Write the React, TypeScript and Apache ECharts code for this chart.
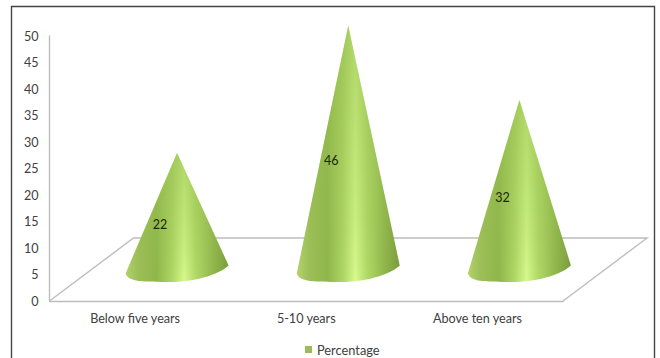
import React, { useEffect, useRef } from "react";
import * as echarts from "echarts";

const categories = ["Below five years", "5-10 years", "Above ten years"];
const percentages = [22, 46, 32];
const yTicksMax = 50;
const yTickStep = 5;
const seriesName = "Percentage";

const FONT = "Lato, Carlito, 'Open Sans', sans-serif";
const TEXT = "#404040";
const FLOOR = "#bdbdbd";
// Shift from the front edge of the floor to its back edge.
const DEPTH_X = 84;
const DEPTH_Y = -63;
const BASE_RX = 51.5;
const BASE_SLOPE = -4;
const BASE_BULGE = 13;

// Cone silhouette: two straight flanks and a slightly tilted elliptical base.
const Cone = echarts.graphic.extendShape({
  type: "cone",
  shape: { cx: 0, cy: 0, tipY: 0 },
  buildPath(ctx: any, s: any) {
    const lx = s.cx - BASE_RX;
    const rx = s.cx + BASE_RX;
    const ly = s.cy - BASE_SLOPE;
    const ry = s.cy + BASE_SLOPE;
    ctx.moveTo(s.cx, s.tipY);
    ctx.lineTo(rx, ry);
    ctx.bezierCurveTo(rx - 14, ry + BASE_BULGE, s.cx + 6, s.cy + BASE_BULGE - 0.5, s.cx - 4, s.cy + BASE_BULGE - 0.5);
    ctx.bezierCurveTo(s.cx - 26, s.cy + BASE_BULGE - 1, lx + 3, ly + BASE_BULGE - 3, lx, ly);
    ctx.closePath();
  },
});
echarts.graphic.registerShape("cone", Cone);

const coneBody = new echarts.graphic.LinearGradient(0, 0, 1, 0, [
  { offset: 0, color: "#b4d26e" },
  { offset: 0.12, color: "#9dbf58" },
  { offset: 0.3, color: "#8fb64a" },
  { offset: 0.45, color: "#aed664" },
  { offset: 0.57, color: "#d6fa8c" },
  { offset: 0.68, color: "#b2da68" },
  { offset: 0.86, color: "#8fb44a" },
  { offset: 1, color: "#7a9a3a" },
]);

// Tints the upper part of each cone so that the highlight fades out towards the tip.
const coneShade = new echarts.graphic.LinearGradient(0, 0, 0, 1, [
  { offset: 0, color: "rgba(150,190,80,0.6)" },
  { offset: 0.75, color: "rgba(150,190,80,0.2)" },
  { offset: 1, color: "rgba(150,190,80,0)" },
]);

function renderCone(params: any, api: any) {
  const cat = api.value(0);
  const val = api.value(1);
  const base = api.coord([cat, 0]);
  const top = api.coord([cat, val]);
  const middle = api.coord([cat, val / 2]);
  const shape = {
    cx: base[0] + DEPTH_X / 2,
    cy: base[1] + DEPTH_Y / 2,
    tipY: top[1] + DEPTH_Y / 2,
  };
  return {
    type: "group",
    children: [
      { type: "cone", shape, style: { fill: coneBody } },
      { type: "cone", shape, style: { fill: coneShade } },
      {
        type: "text",
        x: middle[0] + 25,
        y: middle[1] - 18.5,
        style: {
          text: String(val),
          fill: "#1a2608",
          font: `12.5px ${FONT}`,
          align: "center",
          verticalAlign: "middle",
        },
      },
    ],
  };
}

// The floor parallelogram spans the plot area at the bottom of the value axis.
function renderFloor(params: any, api: any) {
  const { x, y, width, height } = params.coordSys;
  const b = y + height;
  return {
    type: "polyline",
    silent: true,
    shape: {
      points: [
        [x, b],
        [x + DEPTH_X, b + DEPTH_Y],
        [x + width + DEPTH_X, b + DEPTH_Y],
        [x + width, b],
      ],
    },
    style: { fill: "none", stroke: FLOOR, lineWidth: 1.4 },
  };
}

export default function App() {
  const ref = useRef<HTMLDivElement>(null);

  useEffect(() => {
    const chart = echarts.init(ref.current!, undefined, { renderer: "svg" });
    chart.setOption({
      animation: false,
      backgroundColor: "#ffffff",
      graphic: [
        {
          type: "polyline",
          silent: true,
          shape: { points: [[11.5, 358], [11.5, 6.5], [654.5, 6.5], [654.5, 358]] },
          style: { fill: "none", stroke: "#454545", lineWidth: 1.4 },
        },
      ],
      legend: {
        data: [{ name: seriesName, icon: "rect" }],
        left: 305,
        top: 343,
        padding: 0,
        itemWidth: 7,
        itemHeight: 7,
        itemGap: 4,
        textStyle: { color: TEXT, fontFamily: FONT, fontSize: 12.8 },
      },
      grid: { left: 49.5, right: 97, top: 36, bottom: 57 },
      xAxis: {
        type: "category",
        data: categories,
        axisLine: { lineStyle: { color: FLOOR, width: 1.4 } },
        axisTick: { show: false },
        axisLabel: { color: TEXT, fontFamily: FONT, fontSize: 12.6, margin: 11 },
      },
      yAxis: {
        type: "value",
        min: 0,
        max: yTicksMax,
        interval: yTickStep,
        splitLine: { show: false },
        axisTick: { show: false },
        axisLine: { show: true, lineStyle: { color: FLOOR, width: 1.4 } },
        axisLabel: { color: TEXT, fontFamily: FONT, fontSize: 12.6, margin: 11 },
      },
      series: [
        {
          type: "custom",
          name: "floor",
          coordinateSystem: "cartesian2d",
          data: [[0, 0]],
          renderItem: renderFloor,
          silent: true,
          z: 1,
        },
        {
          type: "custom",
          name: seriesName,
          coordinateSystem: "cartesian2d",
          data: percentages.map((v, i) => [i, v]),
          encode: { x: 0, y: 1 },
          itemStyle: { color: "#9bbb59" },
          renderItem: renderCone,
          z: 2,
        },
      ],
    });
    return () => chart.dispose();
  }, []);

  return (
    <div
      ref={ref}
      style={{ position: "absolute", left: 0, top: 0, width: 660, height: 358 }}
    />
  );
}
